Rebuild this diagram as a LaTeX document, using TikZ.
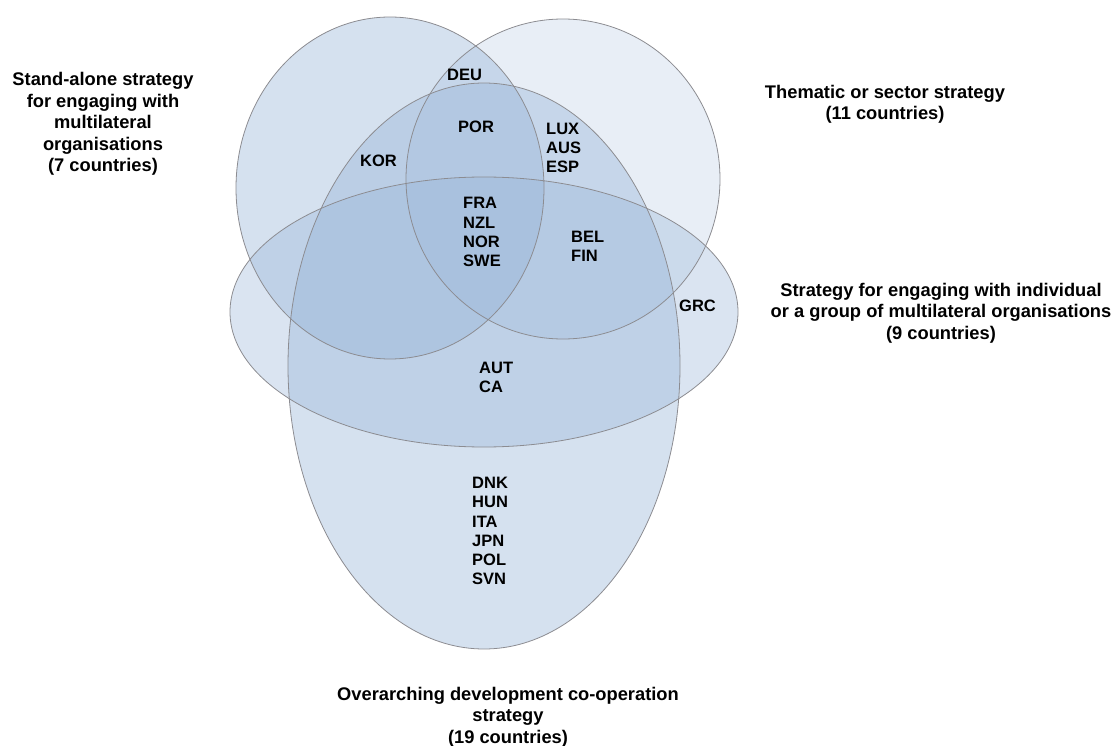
\documentclass[tikz,border=0pt]{standalone}
\usepackage{fontspec}
\setmainfont{Liberation Sans}
\definecolor{vennblue}{RGB}{149,179,215}
\definecolor{vennline}{RGB}{140,140,145}
\begin{document}
\begin{tikzpicture}[x=1pt,y=-1pt,
  setfill/.style={fill=vennblue,fill opacity=#1},
  setline/.style={draw=vennline,line width=0.8pt},
  lbl/.style={font=\bfseries\fontsize{18.3}{21.4}\selectfont,align=center,inner sep=0pt},
  code/.style={font=\bfseries\fontsize{16.5}{19.1}\selectfont,align=left,anchor=west,inner sep=0pt}]
\useasboundingbox (0,0) rectangle (1117,746);
% fills
\path[setfill=0.35] (484,312) ellipse [x radius=254,y radius=135];
\path[setfill=0.40] (484,366) ellipse [x radius=196,y radius=283];
\path[setfill=0.40] (390,188) ellipse [x radius=154,y radius=171];
\path[setfill=0.22] (563,179) ellipse [x radius=157,y radius=160];
% outlines
\draw[setline] (484,312) ellipse [x radius=254,y radius=135];
\draw[setline] (484,366) ellipse [x radius=196,y radius=283];
\draw[setline] (390,188) ellipse [x radius=154,y radius=171];
\draw[setline] (563,179) ellipse [x radius=157,y radius=160];
% set labels
\node[lbl] (lstand) at (103,124) {Stand-alone strategy\\for engaging with\\multilateral\\organisations\\(7 countries)};
\node[lbl] (lthem) at (885,104) {Thematic or sector strategy\\(11 countries)};
\node[lbl] (lind) at (941,313) {Strategy for engaging with individual\\or a group of multilateral organisations\\(9 countries)};
\node[lbl] (lover) at (508,717) {Overarching development co-operation\\strategy\\(19 countries)};
% country codes
\node[code] (deu) at (447,74.5) {DEU};
\node[code] (por) at (458,127) {POR};
\node[code] (kor) at (360,161) {KOR};
\node[code] (lux) at (546,148) {LUX\\AUS\\ESP};
\node[code] (fra) at (463,232) {FRA\\NZL\\NOR\\SWE};
\node[code] (bel) at (571,246) {BEL\\FIN};
\node[code] (grc) at (679,306) {GRC};
\node[code] (aut) at (479,377) {AUT\\CA};
\node[code] (dnk) at (472,531) {DNK\\HUN\\ITA\\JPN\\POL\\SVN};
\end{tikzpicture}
\end{document}
